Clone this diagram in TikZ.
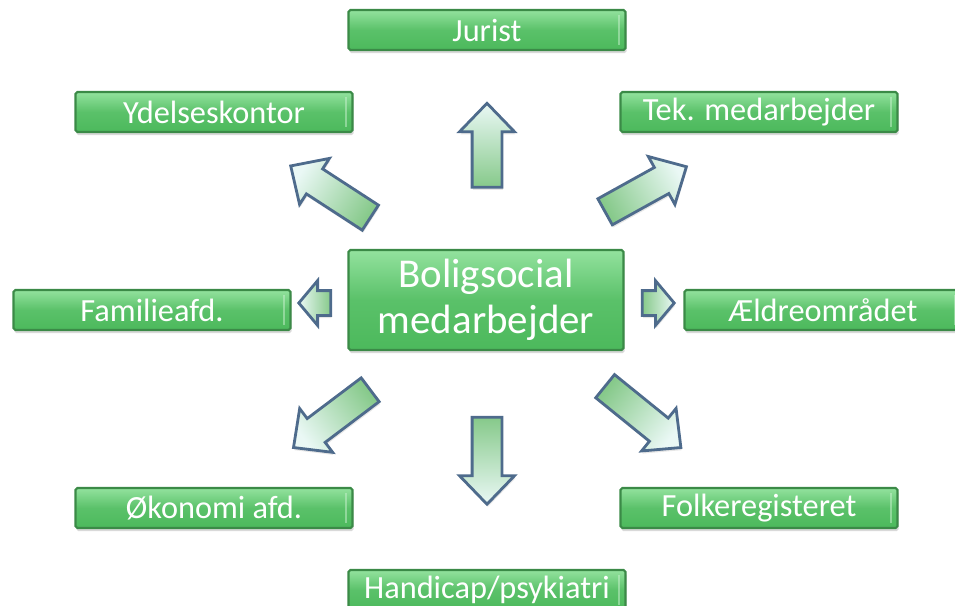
\documentclass[tikz,border=0pt]{standalone}
\usepackage{fontspec}
\setmainfont{Carlito}
\usetikzlibrary{shapes.arrows,shadows}

\definecolor{boxtop}{HTML}{93E29E}
\definecolor{boxbot}{HTML}{4CB95C}
\definecolor{boxline}{HTML}{3B8A47}
\definecolor{arrline}{HTML}{4E6B8C}
\definecolor{arrtip}{HTML}{EAF8F5}
\definecolor{arrtail}{HTML}{86C98A}

\begin{document}
\begin{tikzpicture}[x=0.02cm, y=-0.02cm,
  box/.style={draw=boxline, line width=1.2pt, top color=boxtop, bottom color=boxbot,
    middle color=boxbot!80!boxtop, rounded corners=1pt, minimum width=5.54cm, minimum height=0.8cm,
    inner sep=0pt, text=white, font=\fontsize{18.4}{22}\selectfont,
    drop shadow={shadow xshift=0.6pt, shadow yshift=-1.8pt, opacity=0.3},
    path picture={\draw[white!50!boxtop, line width=1pt, opacity=0.5]
      ([xshift=-3.5pt,yshift=3pt]path picture bounding box.south east) --
      ([xshift=-3.5pt,yshift=-3pt]path picture bounding box.north east);}},
  hub/.style={box, minimum width=5.5cm, minimum height=2cm, align=center,
    font=\fontsize{23.3}{26}\selectfont, path picture={}},
  blockarrow/.style={single arrow, draw=arrline, line width=1.6pt, top color=arrtip, bottom color=arrtail,
    rotate=#1, shading angle=#1-90,
    inner xsep=0pt, inner ysep=0.27cm, single arrow head extend=0.25cm, single arrow tip angle=88,
    drop shadow={shadow xshift=0.5pt, shadow yshift=-1.5pt, opacity=0.2}},
  smallarrow/.style={blockarrow=#1, inner ysep=0.22cm, single arrow head extend=0.2cm, single arrow tip angle=100}]
  \useasboundingbox (0,0) rectangle (955,605);

  % center and the eight offices
  \node[hub] (hub) at (486,300) {Boligsocial\\medarbejder};
  \node[box] (jurist) at (487,30) {Jurist};
  \node[box] (ydelse) at (214,112) {Ydelseskontor};
  \node[box] (tek) at (759,112) {Tek. medarbejder};
  \node[box] (familie) at (152,310) {Familieafd.};
  \node[box] (aeldre) at (823,310) {Ældreområdet};
  \node[box] (okonomi) at (214,508) {Økonomi afd.};
  \node[box] (folke) at (759,508) {Folkeregisteret};
  \node[box] (handicap) at (487,590) {Handicap/psykiatri};

  % block arrows out of the center
  \node[blockarrow=90, minimum height=1.68cm] (arrUp) at (487,153) {};
  \node[blockarrow=147, minimum height=1.9cm] (arrUL) at (337,196) {};
  \node[blockarrow=29, minimum height=1.86cm] (arrUR) at (639,193) {};
  \node[smallarrow=180, minimum height=0.64cm] (arrL) at (320,303) {};
  \node[smallarrow=0, minimum height=0.64cm] (arrR) at (653,303) {};
  \node[blockarrow=217, minimum height=1.92cm] (arrDL) at (338,414) {};
  \node[blockarrow=270, minimum height=1.74cm] (arrDown) at (487,453) {};
  \node[blockarrow=-39, minimum height=1.95cm] (arrDR) at (637,412) {};
\end{tikzpicture}
\end{document}
